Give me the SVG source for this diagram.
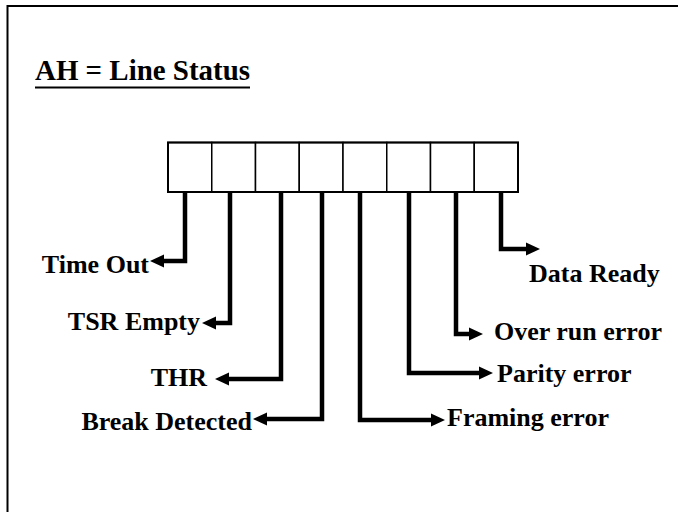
<svg xmlns="http://www.w3.org/2000/svg" width="678" height="512" viewBox="0 0 678 512">
  <style>
    text { font-family: 'Liberation Serif', 'DejaVu Serif', serif; font-weight: 700; fill: #000; }
    .lbl { font-size: 26px; }
    .title { font-size: 29px; }
    .conn { fill: none; stroke: #000; stroke-width: 4.5; stroke-linejoin: miter; marker-end: url(#arr); }
    .cell { fill: #fff; stroke: #000; stroke-width: 1.5; }
  </style>
  <defs>
    <marker id="arr" markerUnits="userSpaceOnUse" markerWidth="15" markerHeight="13" refX="0" refY="6.5" orient="auto" overflow="visible">
      <path d="M0,0 L14,6.5 L0,13 z" fill="#000"/>
    </marker>
  </defs>
  <rect x="0" y="0" width="678" height="512" fill="#fff"/>
  <rect x="7.5" y="6" width="700" height="600" fill="none" stroke="#000" stroke-width="2"/>

  <g id="title">
    <text class="title" x="35" y="80" font-family="Liberation Serif" textLength="215" lengthAdjust="spacingAndGlyphs">AH = Line Status</text>
    <line x1="35" y1="87.5" x2="250" y2="87.5" stroke="#000" stroke-width="2"/>
  </g>

  <g id="register">
    <rect class="cell" x="168" y="142.5" width="43.75" height="49.5"/>
    <rect class="cell" x="211.75" y="142.5" width="43.75" height="49.5"/>
    <rect class="cell" x="255.5" y="142.5" width="43.75" height="49.5"/>
    <rect class="cell" x="299.25" y="142.5" width="43.75" height="49.5"/>
    <rect class="cell" x="343" y="142.5" width="43.75" height="49.5"/>
    <rect class="cell" x="386.75" y="142.5" width="43.75" height="49.5"/>
    <rect class="cell" x="430.5" y="142.5" width="43.75" height="49.5"/>
    <rect class="cell" x="474.25" y="142.5" width="43.75" height="49.5"/>
    <rect x="168" y="142.5" width="350" height="49.5" fill="none" stroke="#000" stroke-width="2"/>
  </g>

  <g id="connectors">
    <path class="conn" d="M185,193 V261 H164"/>
    <path class="conn" d="M230,193 V323 H216"/>
    <path class="conn" d="M281,193 V379 H229"/>
    <path class="conn" d="M322,193 V419 H267"/>
    <path class="conn" d="M360,193 V420 H431"/>
    <path class="conn" d="M409,193 V373 H479"/>
    <path class="conn" d="M456,193 V334 H469"/>
    <path class="conn" d="M501,193 V249 H526"/>
  </g>

  <g id="time-out"><text class="lbl" x="149" y="273" text-anchor="end">Time Out</text></g>
  <g id="tsr-empty"><text class="lbl" x="200" y="330" text-anchor="end">TSR Empty</text></g>
  <g id="thr"><text class="lbl" x="207" y="386" text-anchor="end">THR</text></g>
  <g id="break-detected"><text class="lbl" x="252" y="430" text-anchor="end">Break Detected</text></g>
  <g id="framing-error"><text class="lbl" x="447" y="426">Framing error</text></g>
  <g id="parity-error"><text class="lbl" x="497" y="382">Parity error</text></g>
  <g id="over-run-error"><text class="lbl" x="494" y="340">Over run error</text></g>
  <g id="data-ready"><text class="lbl" x="529" y="282">Data Ready</text></g>
</svg>
